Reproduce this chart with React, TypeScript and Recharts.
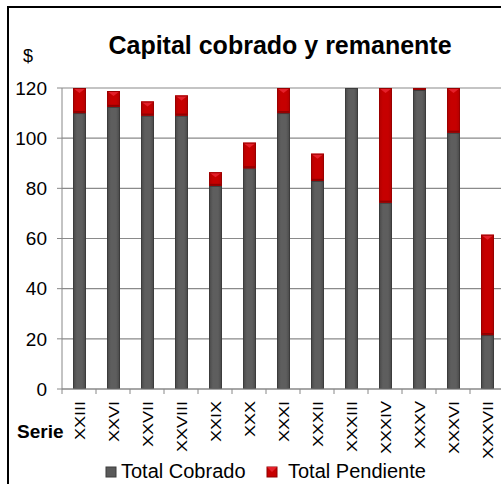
import { BarChart, Bar, XAxis, YAxis, CartesianGrid } from 'recharts';

const series = ['XXIII', 'XXVI', 'XXVII', 'XXVIII', 'XXIX', 'XXX', 'XXXI', 'XXXII', 'XXXIII', 'XXXIV', 'XXXV', 'XXXVI', 'XXXVII'];
const cobrado = [110, 112.5, 109, 109, 81, 88, 110, 83, 124, 74.3, 119.2, 102.2, 21.5];
const pendiente = [12, 6.3, 5.6, 8, 5.4, 10.2, 14, 10.8, 4, 52, 4, 24, 40];
const yTicks = [0, 20, 40, 60, 80, 100, 120];

const chartData = series.map((s, i) => ({
  serie: s,
  cobrado: cobrado[i],
  pendiente: pendiente[i],
}));

const FONT = '"Liberation Sans", Arial, sans-serif';

const GrayBar = (props: any) => {
  const { x, y, width, height } = props;
  if (!height || height <= 0) return null;
  return (
    <g>
      <rect x={x} y={y} width={width} height={height} fill="url(#grayGrad)" />
      <rect x={x + 0.5} y={y + 0.5} width={width - 1} height={height - 1} fill="none" stroke="#3c3c3c" strokeWidth={1} />
    </g>
  );
};

const RedBar = (props: any) => {
  const { x, y, width, height } = props;
  if (!height || height <= 0) return null;
  const bev = Math.min(5, height / 2);
  return (
    <g>
      <rect x={x} y={y} width={width} height={height} fill="url(#redGrad)" />
      <polygon points={`${x},${y} ${x + width},${y} ${x + width / 2},${y + bev}`} fill="#e4202a" />
      <rect x={x} y={y + height - 2} width={width} height={2} fill="#8e0000" />
      <rect x={x + 0.5} y={y + 0.5} width={width - 1} height={height - 1} fill="none" stroke="#9a0000" strokeWidth={1} />
    </g>
  );
};

const SerieTick = (props: any) => {
  const { x, y, payload } = props;
  return (
    <g>
      <line x1={x - 17} y1={y} x2={x - 17} y2={y + 5} stroke="#888" strokeWidth={1} />
      <text
        transform={`translate(${x + 5.5}, ${y + 12}) rotate(-90) scale(1.2, 1)`}
        textAnchor="end"
        fontSize={15}
        fontFamily={FONT}
        fill="#000"
      >
        {payload.value}
      </text>
    </g>
  );
};

const App = () => {
  return (
    <div style={{ position: 'absolute', left: 0, top: 0, width: 501, height: 484, overflow: 'hidden', background: '#fff', fontFamily: FONT }}>
      <div style={{ position: 'absolute', left: 7, top: 6, width: 600, height: 600, borderLeft: '2px solid #000', borderTop: '2px solid #000' }} />
      <div style={{ position: 'absolute', left: 0, top: 0 }}>
        <BarChart width={520} height={484} data={chartData} margin={{ top: 88, right: 16, bottom: 0, left: 0 }} barSize={13}>
          <defs>
            <linearGradient id="grayGrad" x1="0" y1="0" x2="1" y2="0">
              <stop offset="0%" stopColor="#474747" />
              <stop offset="30%" stopColor="#5e5e5e" />
              <stop offset="70%" stopColor="#5e5e5e" />
              <stop offset="100%" stopColor="#474747" />
            </linearGradient>
            <linearGradient id="redGrad" x1="0" y1="0" x2="1" y2="0">
              <stop offset="0%" stopColor="#b00000" />
              <stop offset="30%" stopColor="#c60000" />
              <stop offset="70%" stopColor="#c60000" />
              <stop offset="100%" stopColor="#b00000" />
            </linearGradient>
          </defs>
          <CartesianGrid vertical={false} stroke="#8a8a8a" strokeWidth={1.2} />
          <XAxis
            dataKey="serie"
            height={95}
            interval={0}
            tickLine={false}
            tickSize={0}
            tickMargin={0}
            axisLine={{ stroke: '#888' }}
            tick={<SerieTick />}
          />
          <YAxis
            width={62}
            domain={[0, 120]}
            ticks={yTicks}
            allowDataOverflow
            axisLine={{ stroke: '#888' }}
            tickLine={{ stroke: '#888' }}
            tickSize={5}
            tickMargin={10}
            tick={{ fontSize: 19, fill: '#000', fontFamily: FONT }}
          />
          <Bar dataKey="cobrado" stackId="a" shape={<GrayBar />} isAnimationActive={false} />
          <Bar dataKey="pendiente" stackId="a" shape={<RedBar />} isAnimationActive={false} />
        </BarChart>
      </div>
      <svg width={501} height={484} style={{ position: 'absolute', left: 0, top: 0, pointerEvents: 'none' }}>
        <text x={280} y={54} textAnchor="middle" fontSize={25} fontWeight="bold" fontFamily={FONT}>
          Capital cobrado y remanente
        </text>
        <text x={23} y={62} fontSize={18} fontFamily={FONT}>$</text>
        <text x={17} y={438} fontSize={19} fontWeight="bold" fontFamily={FONT}>Serie</text>
        <rect x={106} y={467} width={10} height={10} fill="#5a5a5a" stroke="#3c3c3c" />
        <text x={121} y={478} fontSize={20} fontFamily={FONT}>Total Cobrado</text>
        <rect x={267} y={467} width={10} height={10} fill="#c60000" stroke="#8e0000" />
        <polygon points="267,467 277,467 272,472" fill="#e4202a" />
        <text x={288} y={478} fontSize={20} fontFamily={FONT}>Total Pendiente</text>
      </svg>
    </div>
  );
};

export default App;
